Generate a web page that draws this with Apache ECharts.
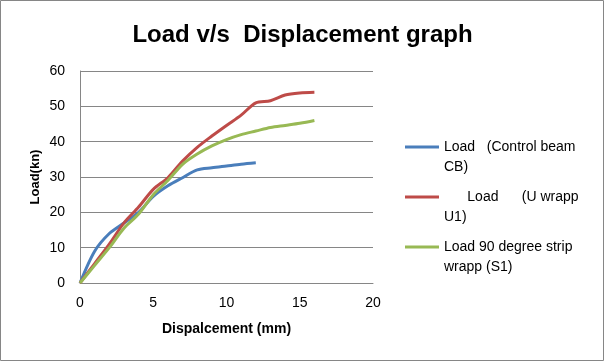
<!DOCTYPE html>
<html><head><meta charset="utf-8">
<script src="https://cdn.jsdelivr.net/npm/echarts@6/dist/echarts.min.js"></script>
<style>html,body{margin:0;padding:0;background:#fff}#c{width:605px;height:362px}</style>
</head><body><div id="c"></div>
<script>
const xBlue = [0,1,2,3,4,5,6,7,8,9,10,11,12];
const yBlue = [0,9,14,17,20,24.5,27.5,29.8,32,32.6,33.1,33.6,34];
const xRed = [0,1,2,3,4,5,6,7,8,9,10,11,12,13,14,15,16];
const yRed = [0,5.5,11,17,21.5,26.5,29.8,34.5,38.4,41.6,44.6,47.5,51,51.6,53.2,53.8,54];
const xGreen = [0,1,2,3,4,5,6,7,8,9,10,11,12,13,14,15,16];
const yGreen = [0,5,10,15.5,19.5,25,29,33.6,36.5,38.8,40.6,42,43,44,44.6,45.2,46];
const seriesNames = ['Load   (Control beam CB)','Load      (U wrapp U1)','Load 90 degree strip wrapp (S1)'];
const legendLabels = ['Load   (Control beam\nCB)','      Load      (U wrapp\nU1)','Load 90 degree strip\nwrapp (S1)'];
const xTicks = {min:0,max:20,interval:5};
const yTicks = {min:0,max:60,interval:10};
const colors = ['#4A7EBB','#BE4B48','#98B954'];
const pair = (xs,ys)=>xs.map((x,i)=>[x,ys[i]]);
const font = 'Liberation Sans';
const chart = echarts.init(document.getElementById('c'));
chart.setOption({
  animation:false,
  color:colors,
  title:{text:'Load v/s  Displacement graph',left:'center',top:18,textStyle:{fontFamily:font,fontWeight:'bold',fontSize:24,color:'#000'}},
  grid:{left:80,right:232,top:71,bottom:79},
  xAxis:{type:'value',min:xTicks.min,max:xTicks.max,interval:xTicks.interval,
    name:'Dispalcement (mm)',nameLocation:'middle',nameGap:39,
    nameTextStyle:{fontFamily:font,fontWeight:'bold',fontSize:14,color:'#000'},
    axisLine:{lineStyle:{color:'#868686'}},axisTick:{show:false},
    axisLabel:{fontFamily:font,fontSize:14,color:'#000',margin:13},
    splitLine:{show:false}},
  yAxis:{type:'value',min:yTicks.min,max:yTicks.max,interval:yTicks.interval,
    name:'Load(kn)',nameLocation:'middle',nameGap:38,
    nameTextStyle:{fontFamily:font,fontWeight:'bold',fontSize:13,color:'#000'},
    axisLine:{show:true,lineStyle:{color:'#868686'}},axisTick:{show:false},
    axisLabel:{fontFamily:font,fontSize:14,color:'#000',margin:15},
    splitLine:{lineStyle:{color:'#868686'}}},
  legend:{orient:'vertical',left:405,top:117,padding:0,itemGap:-10,itemWidth:34,itemHeight:3,
    icon:'rect',
    formatter:n=>'\n'+legendLabels[seriesNames.indexOf(n)],
    textStyle:{fontFamily:font,fontSize:14,color:'#000',lineHeight:20},
    data:seriesNames},
  graphic:[{type:'rect',shape:{x:0.5,y:0.5,width:603,height:360},style:{fill:null,stroke:'#868686',lineWidth:1},silent:true}],
  series:[
    {name:seriesNames[0],type:'line',data:pair(xBlue,yBlue),smooth:0.3,showSymbol:false,lineStyle:{width:3}},
    {name:seriesNames[1],type:'line',data:pair(xRed,yRed),smooth:0.3,showSymbol:false,lineStyle:{width:3}},
    {name:seriesNames[2],type:'line',data:pair(xGreen,yGreen),smooth:0.3,showSymbol:false,lineStyle:{width:3}}
  ]
});
</script></body></html>
